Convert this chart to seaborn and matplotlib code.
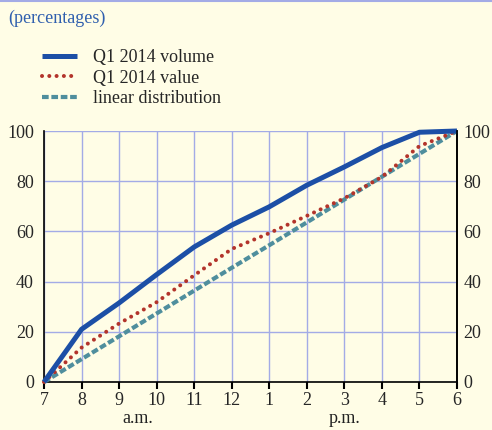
import matplotlib
matplotlib.use("Agg")
import matplotlib.pyplot as plt
import matplotlib.transforms as mtransforms
import seaborn as sns
import pandas as pd

hours = ["7", "8", "9", "10", "11", "12", "1", "2", "3", "4", "5", "6"]
volume = [0, 21, 31.5, 42.8, 53.8, 62.5, 69.8, 78.4, 85.7, 93.4, 99.5, 100]
value = [0, 13.7, 23.3, 31.8, 42.5, 53.0, 59.3, 66.2, 73.2, 81.7, 94.0, 100]
linear = [0, 9.1, 18.2, 27.3, 36.4, 45.5, 54.5, 63.6, 72.7, 81.8, 90.9, 100]
labels = ["Q1 2014 volume", "Q1 2014 value", "linear distribution"]
yticks = [0, 20, 40, 60, 80, 100]

sns.set_style("white")
plt.rcParams["font.family"] = ["Liberation Serif", "DejaVu Serif"]

BG = "#FFFDE6"
GRID = "#A3ABE6"
C_VOL = "#1C4FA6"
C_VAL = "#B3342B"
C_LIN = "#4F8E9D"

df = pd.DataFrame({"pos": list(range(len(hours))), "volume": volume,
                   "value": value, "linear": linear})

fig = plt.figure(figsize=(4.92, 4.30), dpi=100, facecolor=BG)
ax = fig.add_axes([44 / 492, 1 - 382 / 430, (457 - 44) / 492, (382 - 131) / 430])
ax.set_facecolor(BG)

sns.lineplot(data=df, x="pos", y="linear", ax=ax, color=C_LIN, lw=3.0,
             label=labels[2], clip_on=False, zorder=3)
sns.lineplot(data=df, x="pos", y="value", ax=ax, color=C_VAL, lw=2.9,
             label=labels[1], clip_on=False, zorder=4)
sns.lineplot(data=df, x="pos", y="volume", ax=ax, color=C_VOL, lw=3.6,
             label=labels[0], clip_on=False, zorder=5)

lines = ax.get_lines()
l_lin, l_val, l_vol = lines[0], lines[1], lines[2]
l_lin.set_dashes((1.6, 0.65))
l_lin.set_dash_capstyle("butt")
l_val.set_dashes((0.01, 1.8))
l_val.set_dash_capstyle("round")
l_vol.set_solid_capstyle("butt")
l_vol.set_solid_joinstyle("round")

ax.set_xlim(0, len(hours) - 1)
ax.set_ylim(0, 100)
ax.set_xticks(range(len(hours)))
ax.set_xticklabels(hours)
ax.set_yticks(yticks)
ax.set_yticklabels([str(v) for v in yticks])
ax.set_xlabel("")
ax.set_ylabel("")

ax.grid(True, color=GRID, lw=1.0, zorder=0)
ax.set_axisbelow(True)

for s in ["left", "right", "bottom"]:
    ax.spines[s].set_visible(True)
    ax.spines[s].set_color("black")
    ax.spines[s].set_linewidth(1.2)
ax.spines["top"].set_visible(False)

ax.tick_params(axis="x", direction="out", length=5, width=1.5, color="black",
               labelsize=13, pad=2, bottom=True)
ax.tick_params(axis="y", left=False, right=False, labelleft=True,
               labelright=False, labelsize=13, length=0, pad=7.2)

ax2 = ax.twinx()
ax2.set_ylim(0, 100)
ax2.set_yticks(yticks)
ax2.set_yticklabels([str(v) for v in yticks])
ax2.tick_params(axis="y", left=False, right=False, labelright=True,
                labelsize=13, length=0, pad=4.8)
ax2.grid(False)
for s in ["left", "top", "bottom"]:
    ax2.spines[s].set_visible(False)
ax2.spines["right"].set_color("black")
ax2.spines["right"].set_linewidth(1.2)

trans = mtransforms.blended_transform_factory(ax.transData, ax.transAxes)
ax.text(2.5, -0.145, "a.m.", transform=trans, ha="center", va="center",
        fontsize=13, color="#222222")
ax.text(8.0, -0.145, "p.m.", transform=trans, ha="center", va="center",
        fontsize=13, color="#222222")

h, l = ax.get_legend_handles_labels()
order = [l.index(lab) for lab in labels]
ax.legend([h[i] for i in order], [l[i] for i in order],
          loc="upper left", bbox_to_anchor=(42 / 492, 1 - 49 / 430),
          bbox_transform=fig.transFigure, frameon=False, fontsize=13,
          handlelength=1.95, handletextpad=0.9, labelspacing=0.2,
          borderpad=0, borderaxespad=0)

fig.text(8 / 492, 1 - 18 / 430, "(percentages)", ha="left", va="center",
         fontsize=13, color="#2F5FAE")

fig.add_artist(plt.Line2D([0, 1], [1 - 0.5 / 430, 1 - 0.5 / 430],
                          transform=fig.transFigure, color=GRID, lw=1.5))

fig.savefig("out.png", dpi=100, facecolor=BG)
